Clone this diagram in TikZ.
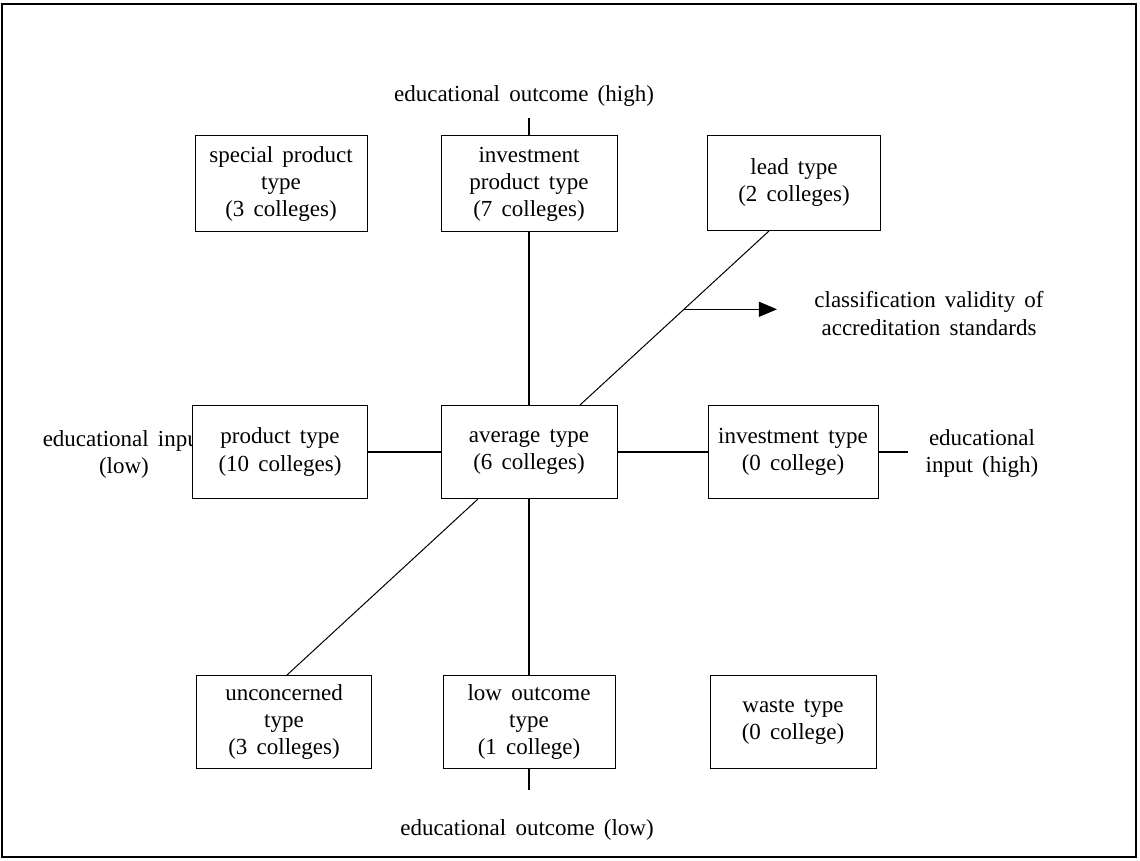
\documentclass[tikz,border=0pt]{standalone}
\usepackage{fontspec}
\setmainfont{Liberation Serif}[WordSpace=1.6]
\usetikzlibrary{calc,arrows.meta}
\begin{document}
\begin{tikzpicture}[x=0.5pt,y=-0.5pt,
  every node/.style={font=\fontsize{11.5}{13.5}\selectfont, text=black},
  typebox/.style={draw, line width=0.5pt, fill=white, rectangle, align=center, inner sep=0pt},
  axis/.style={line width=0.6pt},
  label/.style={align=center, inner sep=0pt}]
\useasboundingbox (0,0) rectangle (1140,861);
\draw[line width=0.6pt] (2,4) rectangle (1136,857);

% left label (drawn before box so the box covers it)
\node[label] (inlow) at (124,454) {educational input\\(low)};

% boxes
\node[typebox, minimum width=86pt, minimum height=48pt] (spt) at (281,184) {special product\\type\\(3 colleges)};
\node[typebox, minimum width=88pt, minimum height=48pt] (ipt) at (529,184) {investment\\product type\\(7 colleges)};
\node[typebox, minimum width=86.5pt, minimum height=47.5pt] (lead) at (794,183) {lead type\\(2 colleges)};
\node[typebox, minimum width=87.5pt, minimum height=46.5pt] (prod) at (280,452) {product type\\(10 colleges)};
\node[typebox, minimum width=88pt, minimum height=46.5pt] (avg) at (529,452) {average type\\(6 colleges)};
\node[typebox, minimum width=85pt, minimum height=46.5pt] (inv) at (793,452) {investment type\\(0 college)};
\node[typebox, minimum width=87.5pt, minimum height=46.5pt] (unc) at (284,722) {unconcerned\\type\\(3 colleges)};
\node[typebox, minimum width=86pt, minimum height=46.5pt] (low) at (529,722) {low outcome\\type\\(1 college)};
\node[typebox, minimum width=83pt, minimum height=46.5pt] (waste) at (793,722) {waste type\\(0 college)};

% axis labels
\node[label] (outhigh) at (524,96) {educational outcome (high)};
\node[label] (outlow) at (527,830) {educational outcome (low)};
\node[label] (inhigh) at (982,454) {educational\\input (high)};
\node[label, font=\fontsize{11.5}{14}\selectfont] (valid) at (929,314) {classification validity of\\accreditation standards};

% axis free ends
\coordinate (topend) at (529,118);
\coordinate (botend) at (529,790);
\coordinate (rightend) at (908,452);

% vertical axis
\draw[axis] (topend) -- (ipt.north);
\draw[axis] (ipt.south) -- (avg.north);
\draw[axis] (avg.south) -- (low.north);
\draw[axis] (low.south) -- (botend);
% horizontal axis
\draw[axis] (prod.east) -- (avg.west);
\draw[axis] (avg.east) -- (inv.west);
\draw[axis] (inv.east) -- (rightend);

% diagonals
\coordinate (leadb) at ($(lead.south)+(-25,0)$);
\coordinate (avgt) at ($(avg.north)+(51,0)$);
\coordinate (avgb) at ($(avg.south)+(-51,0)$);
\coordinate (unct) at ($(unc.north)+(3,0)$);
\draw[line width=0.5pt] (leadb) -- (avgt);
\draw[line width=0.5pt] (avgb) -- (unct);

% arrow
\coordinate (dstart) at ($(leadb)!0.45!(avgt)$);
\coordinate (dend) at ($(dstart)+(93,0)$);
\draw[line width=0.5pt, -{Triangle[length=9pt,width=7.5pt]}] (dstart) -- (dend);
\end{tikzpicture}
\end{document}
